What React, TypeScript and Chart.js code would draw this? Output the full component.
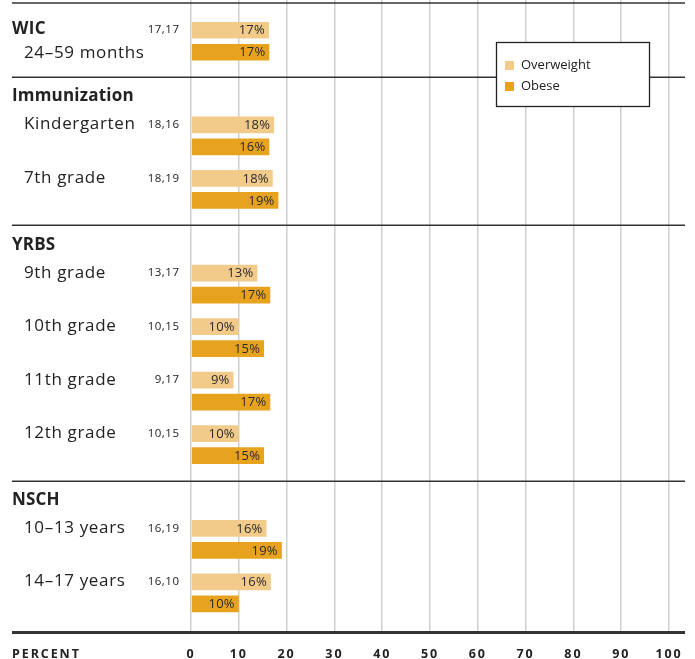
import React, { useEffect, useRef } from "react";
import { Chart, registerables } from "chart.js";

Chart.register(...registerables);

// ---- data ----
const groupNames = ["WIC", "Immunization", "YRBS", "NSCH"];
const rowLabels = [
  "24–59 months",
  "Kindergarten",
  "7th grade",
  "9th grade",
  "10th grade",
  "11th grade",
  "12th grade",
  "10–13 years",
  "14–17 years",
];
const rowGroups = [0, 1, 1, 2, 2, 2, 2, 3, 3];
const overweightValues = [16.3, 17.4, 17.1, 13.9, 10.0, 8.9, 10.0, 15.8, 16.7];
const obeseValues = [16.4, 16.4, 18.3, 16.6, 15.3, 16.6, 15.3, 19.0, 10.0];
const overweightLabels = [17, 18, 18, 13, 10, 9, 10, 16, 16];
const obeseLabels = [17, 16, 19, 17, 15, 17, 15, 19, 10];
const xTicks = [0, 10, 20, 30, 40, 50, 60, 70, 80, 90, 100];
const seriesNames = ["Overweight", "Obese"];
const seriesColors = ["#F2CB8B", "#E8A31E"];
const axisTitle = "PERCENT";

// ---- layout ----
const W = 695;
const H = 659;
const GROUP_GAP = 0.77;
const Y_MAX = 11.81;
const FONT = "'Open Sans', 'Noto Sans', sans-serif";
const LINE_COLOR = "#333333";

const rowPositions = rowLabels.map((_, i) => i + GROUP_GAP * (rowGroups[i] + 1));

const decorPlugin = {
  id: "decor",
  beforeDraw(chart: any) {
    chart.ctx.letterSpacing = "1.9px";
  },
  beforeDatasetsDraw(chart: any) {
    const ctx = chart.ctx;
    ctx.letterSpacing = "0px";
    const yScale = chart.scales.y;
    const left = 12;
    const right = 685;
    ctx.save();
    ctx.strokeStyle = LINE_COLOR;
    // top line
    ctx.lineWidth = 1.5;
    ctx.beginPath();
    ctx.moveTo(left, 3);
    ctx.lineTo(right, 3);
    ctx.stroke();
    // group separators
    for (let g = 1; g < groupNames.length; g++) {
      let last = -1;
      rowGroups.forEach((rg, i) => {
        if (rg === g - 1) last = i;
      });
      const y = Math.round(yScale.getPixelForValue(rowPositions[last]) + 36) + 0.25;
      ctx.beginPath();
      ctx.moveTo(left, y);
      ctx.lineTo(right, y);
      ctx.stroke();
    }
    // bottom thick line
    ctx.lineWidth = 3;
    ctx.beginPath();
    ctx.moveTo(left, chart.chartArea.bottom + 0.5);
    ctx.lineTo(right, chart.chartArea.bottom + 0.5);
    ctx.stroke();
    ctx.restore();
  },
  afterDatasetsDraw(chart: any) {
    const ctx = chart.ctx;
    const yScale = chart.scales.y;
    ctx.save();
    ctx.letterSpacing = "0px";
    ctx.textBaseline = "middle";

    // bar value labels
    ctx.font = `13px ${FONT}`;
    ctx.letterSpacing = "0.2px";
    ctx.fillStyle = "#2a2a2a";
    ctx.textAlign = "right";
    [overweightLabels, obeseLabels].forEach((labels, d) => {
      const meta = chart.getDatasetMeta(d);
      meta.data.forEach((bar: any, i: number) => {
        ctx.fillText(`${labels[i]}%`, bar.x - 4, bar.y + 0.5);
      });
    });

    // left labels
    const seen: Record<number, boolean> = {};
    rowLabels.forEach((label, i) => {
      const g = rowGroups[i];
      const cy = yScale.getPixelForValue(rowPositions[i]);
      const firstInGroup = !seen[g];
      seen[g] = true;
      ctx.textAlign = "left";
      ctx.fillStyle = "#222222";
      if (g === 0 && firstInGroup) {
        // heading inline with the first row
        ctx.font = `bold 17px ${FONT}`;
        ctx.letterSpacing = "0.4px";
        ctx.fillText(groupNames[g], 12, cy - 12);
        ctx.font = `17px ${FONT}`;
        ctx.letterSpacing = "0.65px";
        ctx.fillText(label, 24, cy + 12);
      } else {
        if (firstInGroup) {
          ctx.font = `bold 17px ${FONT}`;
          ctx.letterSpacing = "0.2px";
          ctx.fillText(groupNames[g], 12, cy - 39.5);
        }
        ctx.font = `17px ${FONT}`;
        ctx.letterSpacing = "0.65px";
        ctx.fillText(label, 24, cy - 11.5);
      }
      // small annotation
      ctx.font = `11.5px ${FONT}`;
      ctx.letterSpacing = "0.5px";
      ctx.textAlign = "right";
      ctx.fillText(`${overweightLabels[i]},${obeseLabels[i]}`, 179.5, cy - 11);
    });

    // axis title
    ctx.font = `bold 12.5px ${FONT}`;
    ctx.letterSpacing = "1.9px";
    ctx.textAlign = "left";
    ctx.fillStyle = "#222222";
    ctx.fillText(axisTitle, 12, 654);
    ctx.letterSpacing = "0px";
    ctx.restore();
  },
  afterDraw(chart: any) {
    const ctx = chart.ctx;
    ctx.save();
    ctx.letterSpacing = "0px";
    // legend box
    const bx = 496.5;
    const by = 42.5;
    const bw = 153;
    const bh = 64;
    ctx.fillStyle = "#ffffff";
    ctx.fillRect(bx, by, bw, bh);
    ctx.strokeStyle = "#222222";
    ctx.lineWidth = 1.3;
    ctx.strokeRect(bx, by, bw, bh);
    ctx.font = `13px ${FONT}`;
    ctx.textBaseline = "middle";
    ctx.textAlign = "left";
    seriesNames.forEach((name, i) => {
      const y = 65.5 + i * 21;
      ctx.fillStyle = seriesColors[i];
      ctx.fillRect(505, y - 4.5, 9, 9);
      ctx.fillStyle = "#222222";
      ctx.fillText(name, 521, y);
    });
    ctx.restore();
  },
};

export default function App() {
  const canvasRef = useRef<HTMLCanvasElement | null>(null);

  useEffect(() => {
    if (!canvasRef.current) return;
    const chart = new Chart(canvasRef.current, {
      type: "bar",
      data: {
        datasets: [overweightValues, obeseValues].map((vals, d) => ({
          label: seriesNames[d],
          data: vals.map((v, i) => ({ x: v, y: rowPositions[i] })),
          backgroundColor: seriesColors[d],
          borderColor: "rgba(0,0,0,0)",
          borderWidth: { top: 3, bottom: 3, left: 0, right: 0 },
          borderSkipped: false,
          barThickness: 22,
        })),
      },
      options: {
        indexAxis: "y",
        responsive: false,
        animation: false,
        events: [],
        layout: { padding: { left: 191, right: 26, top: 0, bottom: 0 } },
        plugins: {
          legend: { display: false },
          tooltip: { enabled: false },
        },
        scales: {
          x: {
            type: "linear",
            min: 0,
            max: 100,
            position: "bottom",
            afterBuildTicks: (scale: any) => {
              scale.ticks = xTicks.map((v) => ({ value: v }));
            },
            afterFit: (scale: any) => {
              scale.height = 27;
            },
            grid: {
              color: "#d0d0d0",
              lineWidth: 1.5,
              drawTicks: false,
            },
            border: { display: false },
            ticks: {
              padding: 15,
              color: "#222222",
              font: { family: FONT, size: 12.5, weight: "bold" },
            },
          },
          y: {
            type: "linear",
            min: 0,
            max: Y_MAX,
            reverse: true,
            offset: false,
            display: false,
            grid: { display: false },
          },
        },
      },
      plugins: [decorPlugin],
    } as any);
    return () => chart.destroy();
  }, []);

  return (
    <canvas
      ref={canvasRef}
      width={W}
      height={H}
      style={{ position: "absolute", left: 0, top: 0, display: "block", background: "#ffffff" }}
    />
  );
}
